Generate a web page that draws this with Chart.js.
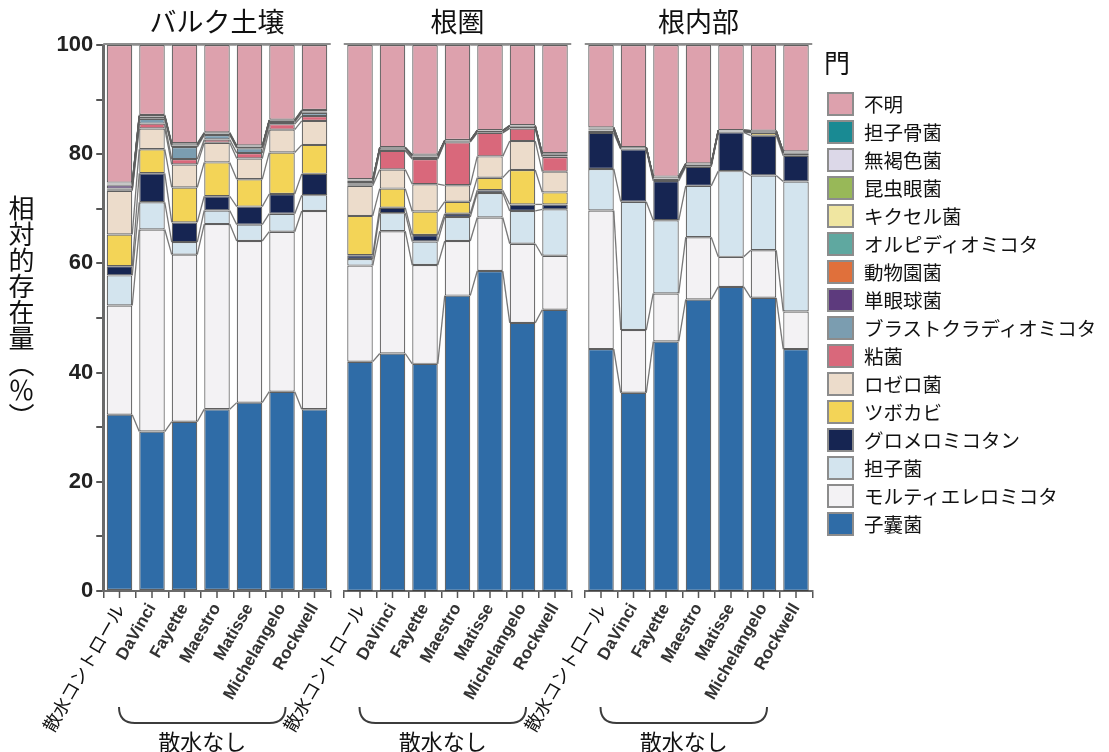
<!DOCTYPE html>
<html lang="ja">
<head>
<meta charset="utf-8">
<title>門レベルの相対的存在量</title>
<script src="https://cdn.jsdelivr.net/npm/chart.js@4.4.1/dist/chart.umd.min.js"></script>
<style>
  html, body { margin: 0; padding: 0; background: #fff; }
  #wrap { position: relative; width: 1109px; height: 752px; overflow: hidden; }
  #wrap canvas { position: absolute; left: 0; top: 0; }
  #ytitle {
    position: absolute; left: 8px; top: 195px;
    writing-mode: vertical-rl; font-family: "Noto Sans CJK JP", sans-serif;
    font-size: 26px; line-height: 1; color: #111;
  }
  #legend { position: absolute; left: 820px; top: 44px; font-family: "Noto Sans CJK JP", sans-serif; color: #111; }
  #legend .ttl { font-size: 26px; line-height: 36px; margin: 0 0 10px 4px; }
  #legend .item { height: 28px; display: flex; align-items: center; }
  #legend .box { width: 23px; height: 20px; border: 2px solid #8c8c8c; margin: 0 10px 0 7px; box-sizing: content-box; }
  #legend .lbl { font-size: 19.5px; line-height: 28px; white-space: nowrap; }
</style>
</head>
<body>
<div id="wrap">
  <canvas id="c0" width="1109" height="752"></canvas>
  <canvas id="c1" width="1109" height="752"></canvas>
  <canvas id="c2" width="1109" height="752"></canvas>
  <div id="ytitle">相対的存在量（％）</div>
  <div id="legend"></div>
</div>
<script>
// Panels and samples
const panelTitles = ['バルク土壌', '根圏', '根内部'];
const samples = ['散水コントロール', 'DaVinci', 'Fayette', 'Maestro', 'Matisse', 'Michelangelo', 'Rockwell'];
const groupLabel = '散水なし';
const legendTitle = '門';
const yAxisTicks = [0, 20, 40, 60, 80, 100];

// Relative abundance (%) per phylum; 21 values = 7 samples × (bulk soil, rhizosphere, endosphere)
const ascomycota         = [32.3, 29.2, 31.0, 33.3, 34.5, 36.5, 33.3,  42.0, 43.5, 41.6, 54.1, 58.6, 49.1, 51.5,  44.3, 36.3, 45.7, 53.4, 55.7, 53.7, 44.3];
const mortierellomycota  = [20.0, 37.0, 30.6, 33.9, 29.6, 29.3, 36.3,  17.6, 22.4, 18.1, 10.0,  9.8, 14.5,  9.9,  25.4, 11.5,  8.8, 11.4,  5.5,  8.7,  6.9];
const basidiomycota      = [ 5.5,  5.0,  2.3,  2.5,  3.0,  3.3,  2.9,   1.2,  3.3,  4.3,  4.4,  4.5,  6.0,  8.5,   7.6, 23.5, 13.4,  9.4, 15.7, 13.7, 23.8];
const glomeromycota      = [ 1.7,  5.3,  3.6,  2.6,  3.3,  3.6,  3.9,   0.7,  1.0,  1.2,  0.6,  0.5,  1.2,  0.9,   6.6,  9.6,  7.2,  3.5,  7.1,  7.3,  4.7];
const chytridiomycota    = [ 5.8,  4.4,  6.4,  6.2,  5.0,  7.6,  5.3,   7.2,  3.5,  4.3,  2.2,  2.3,  6.3,  2.2,   0.4,  0.1,  0.4,  0.3,  0.1,  0.5,  0.4];
const rozellomycota      = [ 8.0,  3.8,  4.2,  3.6,  3.8,  4.2,  4.4,   5.5,  3.5,  5.0,  3.0,  3.9,  5.3,  3.8,   0.1,  0.1,  0.1,  0.1,  0.1,  0.1,  0.1];
const mycetozoa          = [ 0.2,  0.9,  1.0,  0.6,  1.0,  1.0,  0.9,   0.3,  3.4,  4.6,  7.9,  4.3,  2.3,  2.7,   0.1,  0.1,  0.1,  0.0,  0.0,  0.1,  0.1];
const blastocladiomycota = [ 0.2,  0.9,  2.2,  0.8,  0.9,  0.4,  0.6,   0.2,  0.2,  0.2,  0.1,  0.1,  0.1,  0.1,   0.0,  0.0,  0.0,  0.0,  0.0,  0.0,  0.0];
const monoblepharomycota = [ 0.6,  0.3,  0.3,  0.2,  0.2,  0.2,  0.2,   0.4,  0.3,  0.3,  0.2,  0.3,  0.3,  0.4,   0.1,  0.1,  0.0,  0.0,  0.1,  0.0,  0.0];
const zoopagomycota      = [ 0.1,  0.1,  0.1,  0.1,  0.1,  0.1,  0.1,   0.1,  0.1,  0.2,  0.0,  0.0,  0.1,  0.1,   0.0,  0.0,  0.0,  0.0,  0.0,  0.0,  0.0];
const olpidiomycota      = [ 0.1,  0.1,  0.1,  0.0,  0.0,  0.0,  0.0,   0.1,  0.0,  0.0,  0.0,  0.0,  0.0,  0.0,   0.1,  0.0,  0.0,  0.0,  0.0,  0.0,  0.0];
const kickxellomycota    = [ 0.1,  0.0,  0.0,  0.0,  0.0,  0.0,  0.0,   0.0,  0.0,  0.0,  0.0,  0.0,  0.0,  0.0,   0.2,  0.0,  0.2,  0.2,  0.1,  0.2,  0.2];
const entomophthoromycota= [ 0.0,  0.0,  0.0,  0.0,  0.0,  0.0,  0.0,   0.0,  0.0,  0.0,  0.0,  0.0,  0.0,  0.0,   0.0,  0.0,  0.0,  0.0,  0.0,  0.0,  0.0];
const aphelidiomycota    = [ 0.1,  0.0,  0.0,  0.0,  0.0,  0.0,  0.0,   0.0,  0.0,  0.0,  0.0,  0.0,  0.0,  0.0,   0.0,  0.0,  0.0,  0.0,  0.0,  0.0,  0.0];
const basidiobolomycota  = [ 0.1,  0.2,  0.2,  0.2,  0.2,  0.1,  0.2,   0.1,  0.1,  0.1,  0.1,  0.1,  0.1,  0.1,   0.0,  0.0,  0.0,  0.0,  0.0,  0.0,  0.0];
const unassigned         = [25.2, 12.8, 18.0, 16.0, 18.4, 13.7, 11.9,  24.6, 18.7, 20.1, 17.4, 15.6, 14.7, 19.8,  15.1, 18.7, 24.1, 21.7, 15.6, 15.7, 19.5];

// Stack order, bottom to top
const phylumNames = ['子囊菌', 'モルティエレロミコタ', '担子菌', 'グロメロミコタン', 'ツボカビ', 'ロゼロ菌', '粘菌',
  'ブラストクラディオミコタ', '単眼球菌', '動物園菌', 'オルピディオミコタ', 'キクセル菌', '昆虫眼菌', '無褐色菌', '担子骨菌', '不明'];
const phylumSeries = [ascomycota, mortierellomycota, basidiomycota, glomeromycota, chytridiomycota, rozellomycota, mycetozoa,
  blastocladiomycota, monoblepharomycota, zoopagomycota, olpidiomycota, kickxellomycota, entomophthoromycota, aphelidiomycota, basidiobolomycota, unassigned];
const phylumColors = ['#2f6ca7', '#f3f2f4', '#d3e4ee', '#162552', '#f3d457', '#ecdccb', '#d9687b',
  '#7b9db0', '#5d3a7d', '#e0703b', '#5fa8a0', '#f0e6a1', '#98b858', '#dcd8e8', '#198a93', '#dda1ad'];

const JP = '"Noto Sans CJK JP", sans-serif';
const LATIN = '"Liberation Sans", Arial, sans-serif';

// Plot-area horizontal extents of the three panels (px)
const panelLeft  = [103.25, 343.75, 584.75];
const panelRight = [330.75, 571.25, 812.25];
const Y_AXIS_W = 103;
const CANVAS_W = 1109, PLOT_BOTTOM = 591, CANVAS_H = 752;

// Grey ribbons linking segment boundaries of neighbouring bars, plus the panel top rule
const flowLines = {
  id: 'flowLines',
  afterDatasetsDraw(chart) {
    const ctx = chart.ctx;
    ctx.save();
    ctx.strokeStyle = 'rgba(95,95,95,0.85)';
    ctx.lineWidth = 1.3;
    chart.data.datasets.forEach((ds, di) => {
      const meta = chart.getDatasetMeta(di);
      for (let i = 0; i < meta.data.length - 1; i++) {
        const a = meta.data[i], b = meta.data[i + 1];
        ctx.beginPath();
        ctx.moveTo(a.x + a.width / 2, a.y);
        ctx.lineTo(b.x - b.width / 2, b.y);
        ctx.stroke();
      }
    });
    const yTop = chart.scales.y.getPixelForValue(100);
    ctx.strokeStyle = '#8e8e8e';
    ctx.lineWidth = 2;
    ctx.beginPath();
    ctx.moveTo(chart.chartArea.left, yTop - 1);
    ctx.lineTo(chart.chartArea.right, yTop - 1);
    ctx.stroke();
    ctx.restore();
  }
};

// Centre tick marks on the category axis and the 散水なし brace under the cultivar labels
const groupBrace = {
  id: 'groupBrace',
  afterDraw(chart) {
    const xs = chart.scales.x;
    const ctx = chart.ctx;
    ctx.save();
    ctx.strokeStyle = '#555';
    ctx.lineWidth = 1.5;
    samples.forEach((s, i) => {
      const x = xs.getPixelForValue(i);
      ctx.beginPath();
      ctx.moveTo(x, xs.top);
      ctx.lineTo(x, xs.top + 7);
      ctx.stroke();
    });
    const L = xs.getPixelForValue(1) - 33;
    const R = xs.getPixelForValue(samples.length - 1) - 29;
    const yUp = xs.top + 116, yLow = xs.top + 132, r = 16;
    ctx.strokeStyle = '#3c3c3c';
    ctx.lineWidth = 2;
    ctx.beginPath();
    ctx.moveTo(L, yUp);
    ctx.quadraticCurveTo(L, yLow, L + r, yLow);
    ctx.lineTo(R - r, yLow);
    ctx.quadraticCurveTo(R, yLow, R, yUp);
    ctx.stroke();
    ctx.fillStyle = '#111';
    ctx.font = '22px ' + JP;
    ctx.textAlign = 'center';
    ctx.textBaseline = 'middle';
    ctx.fillText(groupLabel, (L + R) / 2, xs.top + 151);
    ctx.restore();
  }
};

function makePanel(canvasId, p) {
  const from = p * samples.length, to = from + samples.length;
  const datasets = phylumNames.map((name, k) => ({
    label: name,
    data: phylumSeries[k].slice(from, to),
    backgroundColor: phylumColors[k],
    borderColor: 'rgba(55,55,55,0.8)',
    borderWidth: 1.2,
    borderSkipped: false,
    barPercentage: 0.785,
    categoryPercentage: 1.0
  }));
  const showY = p === 0;
  return new Chart(document.getElementById(canvasId), {
    type: 'bar',
    data: { labels: samples, datasets },
    plugins: [flowLines, groupBrace],
    options: {
      responsive: false,
      animation: false,
      devicePixelRatio: 1,
      layout: {
        padding: {
          left: showY ? panelLeft[p] - Y_AXIS_W : panelLeft[p],
          right: CANVAS_W - panelRight[p],
          top: 0, bottom: 0
        }
      },
      plugins: {
        legend: { display: false },
        tooltip: { enabled: false },
        title: {
          display: true,
          text: panelTitles[p],
          fullSize: false,
          color: '#111',
          font: { family: JP, size: 27, weight: 'normal', lineHeight: 1.2 },
          padding: { top: 6, bottom: 6.6 }
        }
      },
      scales: {
        x: {
          stacked: true,
          grid: { display: true, drawOnChartArea: false, drawTicks: true, tickLength: 7, offset: true, color: '#555', lineWidth: 1.5 },
          border: { display: true, color: '#6a6a6a', width: 2 },
          ticks: {
            autoSkip: false,
            minRotation: 60,
            maxRotation: 60,
            padding: 2,
            color: (c) => c.index === 0 ? '#111' : '#333',
            font: (c) => c.index === 0
              ? { family: JP, size: 18, weight: 'normal' }
              : { family: LATIN, size: 17, weight: 'bold' }
          },
          afterFit(scale) {
            scale.paddingLeft = 0;
            scale.paddingRight = 0;
            scale.height = CANVAS_H - PLOT_BOTTOM;
          }
        },
        y: {
          stacked: true,
          display: showY,
          min: 0,
          max: 100,
          grid: { display: true, drawOnChartArea: false, drawTicks: true, tickLength: 7, color: '#555', lineWidth: 2 },
          border: { display: true, color: '#6a6a6a', width: 3 },
          ticks: {
            stepSize: 10,
            padding: 3,
            color: '#222',
            font: { family: LATIN, size: 22, weight: 'bold' },
            callback: (v) => yAxisTicks.includes(v) ? String(v) : ''
          },
          afterFit(scale) { scale.width = showY ? Y_AXIS_W : 0; }
        }
      }
    }
  });
}

makePanel('c0', 0);
makePanel('c1', 1);
makePanel('c2', 2);

// Legend, top entry first (reverse of stack order)
const legendEl = document.getElementById('legend');
const ttl = document.createElement('div');
ttl.className = 'ttl';
ttl.textContent = legendTitle;
legendEl.appendChild(ttl);
for (let k = phylumNames.length - 1; k >= 0; k--) {
  const item = document.createElement('div');
  item.className = 'item';
  const box = document.createElement('span');
  box.className = 'box';
  box.style.background = phylumColors[k];
  const lbl = document.createElement('span');
  lbl.className = 'lbl';
  lbl.textContent = phylumNames[k];
  item.appendChild(box);
  item.appendChild(lbl);
  legendEl.appendChild(item);
}
</script>
</body>
</html>
